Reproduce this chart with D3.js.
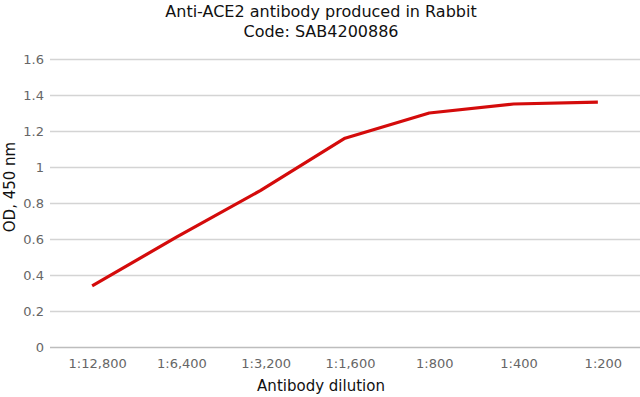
<!DOCTYPE html>
<html>
<head>
<meta charset="utf-8">
<script src="https://cdn.jsdelivr.net/npm/d3@7"></script>
<style>
  body { margin: 0; background: #fff; }
  text { font-family: "DejaVu Sans", Verdana, sans-serif; }
</style>
</head>
<body>
<div id="chart"></div>
<script>
const dilutions = ['1:12,800', '1:6,400', '1:3,200', '1:1,600', '1:800', '1:400', '1:200'];
const odValues = [0.34, 0.61, 0.87, 1.16, 1.30, 1.35, 1.36];
const yTicks = [0, 0.2, 0.4, 0.6, 0.8, 1, 1.2, 1.4, 1.6];
const titleLines = ['Anti-ACE2 antibody produced in Rabbit', 'Code: SAB4200886'];

const width = 640, height = 397;
const plotLeft = 50, plotRight = 640, plotTop = 59, plotBottom = 347;

const svg = d3.select('#chart').append('svg')
  .attr('width', width)
  .attr('height', height);

const x = d3.scalePoint().domain(dilutions).range([plotLeft, plotRight]).padding(0.5);
const y = d3.scaleLinear().domain([0, 1.6]).range([plotBottom, plotTop]);

// grid + y labels
const yAxis = d3.axisLeft(y).tickValues(yTicks).tickSize(-(plotRight - plotLeft)).tickPadding(6)
  .tickFormat(d => d3.format('~g')(d));
const gy = svg.append('g').attr('transform', `translate(${plotLeft},0)`).call(yAxis);
gy.select('.domain').remove();
gy.selectAll('.tick line').attr('stroke', '#d4d4d4').attr('stroke-width', 1.3);
gy.selectAll('.tick line').filter(d => d === 0).attr('stroke', '#bdbdbd');
gy.selectAll('.tick text').attr('fill', '#666').style('font-size', '13px');

// x labels
const xAxis = d3.axisBottom(x).tickSize(0).tickPadding(12);
const gx = svg.append('g').attr('transform', `translate(0,${plotBottom})`).call(xAxis);
gx.select('.domain').remove();
gx.selectAll('.tick text').attr('fill', '#666').attr('dx', 5).style('font-size', '13px');

// line
const line = d3.line().x((d, i) => x(dilutions[i])).y(d => y(d));
svg.append('path')
  .datum(odValues)
  .attr('d', line)
  .attr('fill', 'none')
  .attr('stroke', '#d40b0b')
  .attr('stroke-width', 3.2)
  .attr('stroke-linejoin', 'round');

// titles
svg.selectAll('.title').data(titleLines).enter().append('text')
  .attr('class', 'title')
  .attr('x', 321)
  .attr('y', (d, i) => 17 + i * 20)
  .attr('text-anchor', 'middle')
  .style('font-size', '16px')
  .attr('fill', '#111')
  .text(d => d);

svg.append('text')
  .attr('x', 321).attr('y', 391)
  .attr('text-anchor', 'middle')
  .style('font-size', '15px')
  .attr('fill', '#111')
  .text('Antibody dilution');

svg.append('text')
  .attr('transform', 'translate(15,187) rotate(-90)')
  .attr('text-anchor', 'middle')
  .style('font-size', '15px')
  .attr('fill', '#111')
  .text('OD, 450 nm');
</script>
</body>
</html>
